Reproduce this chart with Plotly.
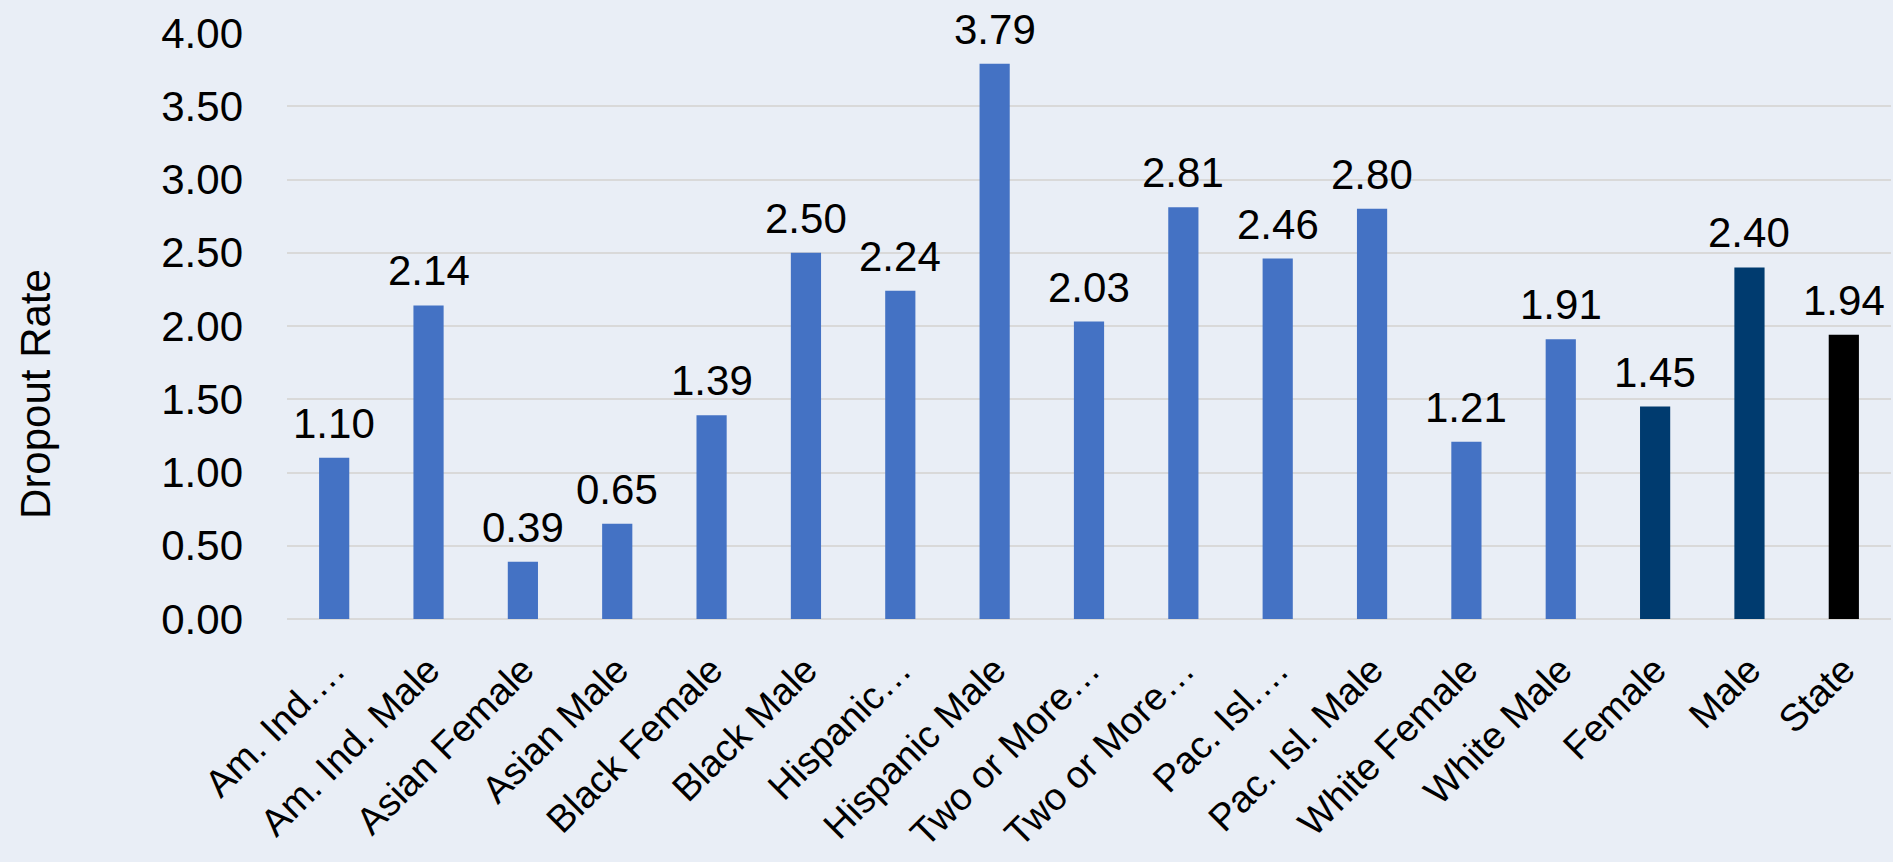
import plotly.graph_objects as go

categories = ["Am. Ind.…", "Am. Ind. Male", "Asian Female", "Asian Male", "Black Female",
              "Black Male", "Hispanic…", "Hispanic Male", "Two or More…", "Two or More…",
              "Pac. Isl.…", "Pac. Isl. Male", "White Female", "White Male", "Female", "Male", "State"]
values = [1.10, 2.14, 0.39, 0.65, 1.39, 2.50, 2.24, 3.79, 2.03, 2.81, 2.46, 2.80, 1.21, 1.91, 1.45, 2.40, 1.94]
bar_colors = ["#4472C4"] * 14 + ["#003B6F", "#003B6F", "#000000"]
y_ticks = [0, 0.5, 1, 1.5, 2, 2.5, 3, 3.5, 4]

FONT = "Liberation Sans, Arial, sans-serif"
FS = 42
XFS = 38
BG = "#E9EEF6"

x_idx = list(range(len(categories)))

fig = go.Figure()
fig.add_trace(go.Bar(
    x=x_idx, y=values,
    marker=dict(color=bar_colors, line=dict(width=0)),
    width=0.32,
    hoverinfo="skip",
))

annotations = []
for i, v in zip(x_idx, values):
    annotations.append(dict(
        x=i, y=v, xref="x", yref="y", text=f"{v:.2f}", showarrow=False,
        yanchor="bottom", yshift=9, font=dict(family=FONT, size=FS, color="#000000"),
    ))
annotations.append(dict(
    x=-0.1565, y=0.384, xref="paper", yref="paper", text="Dropout Rate", showarrow=False,
    textangle=-90, xanchor="center", yanchor="middle",
    font=dict(family=FONT, size=FS, color="#000000"),
))

fig.update_layout(
    width=1893, height=862,
    margin=dict(l=287, r=2, t=33, b=243, autoexpand=False),
    paper_bgcolor=BG, plot_bgcolor=BG,
    showlegend=False,
    annotations=annotations,
    font=dict(family=FONT, size=FS, color="#000000"),
)
fig.update_xaxes(
    tickmode="array", tickvals=x_idx, ticktext=categories,
    tickangle=-45, range=[-0.5, len(categories) - 0.5],
    showgrid=False, zeroline=False, showline=False, ticks="",
    automargin=False, ticklabelstandoff=20,
    tickfont=dict(family=FONT, size=XFS, color="#000000"),
)
fig.update_yaxes(
    range=[0, 4], tickmode="array", tickvals=y_ticks,
    ticktext=[f"{t:.2f}" for t in y_ticks],
    showgrid=True, gridcolor="#D9D9D9", gridwidth=2,
    zeroline=True, zerolinecolor="#D9D9D9", zerolinewidth=2,
    ticks="", ticklabelstandoff=43, automargin=False,
    tickfont=dict(family=FONT, size=FS, color="#000000"),
)

fig.write_html(
    "out.html",
    config={"displayModeBar": False},
    post_script="document.body.style.margin='0';document.body.style.overflow='hidden';"
                "document.body.style.background='" + BG + "';",
)
